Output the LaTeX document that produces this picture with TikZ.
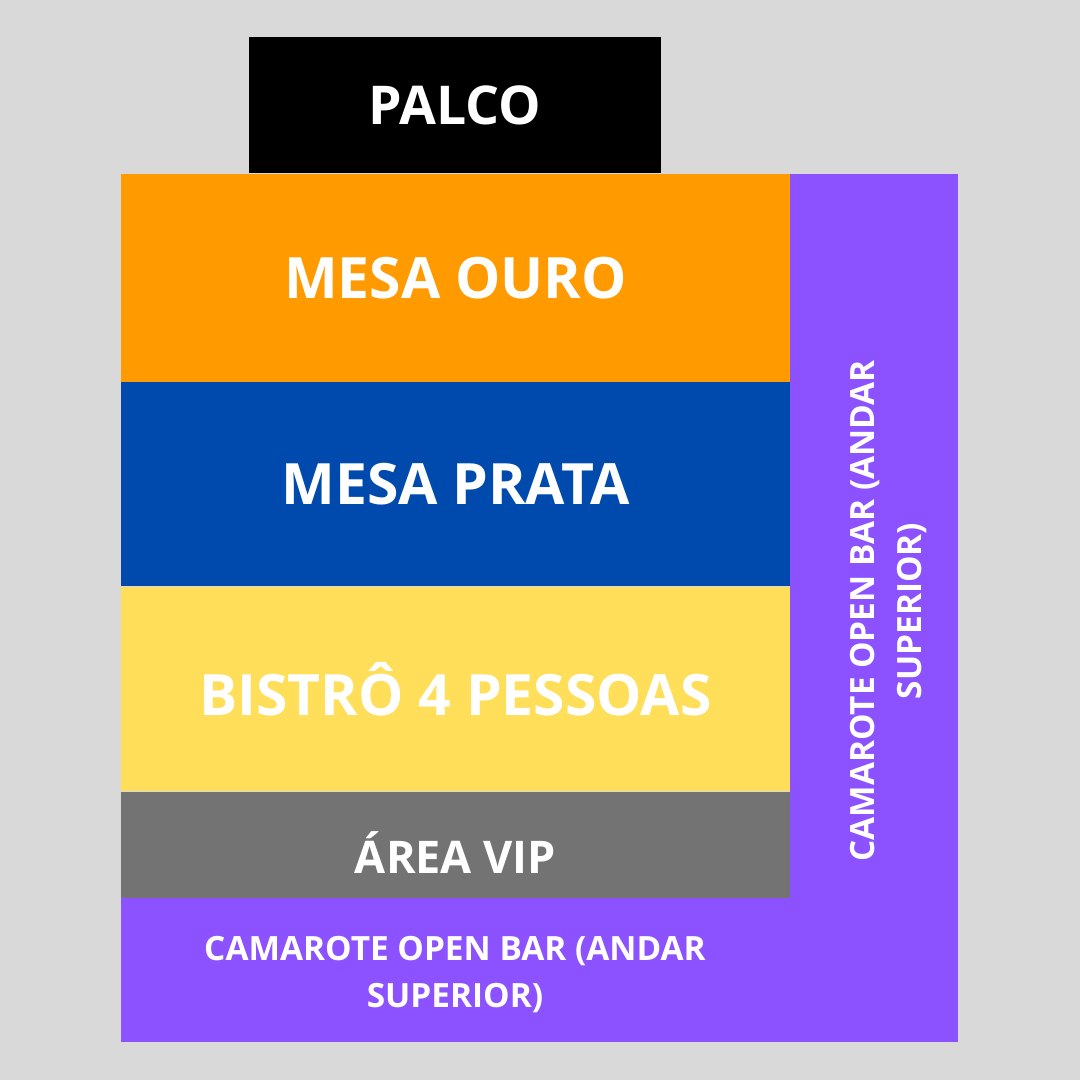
\documentclass[tikz,border=0pt]{standalone}
\usepackage{fontspec}
\setmainfont{Open Sans}[UprightFont=* Bold]
\usetikzlibrary{positioning}

\definecolor{fundo}{HTML}{D9D9D9}
\definecolor{ouro}{HTML}{FF9B00}
\definecolor{prata}{HTML}{004AAD}
\definecolor{bistro}{HTML}{FFDE59}
\definecolor{vip}{HTML}{737373}
\definecolor{camarote}{HTML}{8C52FF}

\begin{document}
\begin{tikzpicture}[
    x=1pt, y=-1pt,
    % Plan styling
    every node/.style={
        inner sep=0pt,
        outer sep=0pt,
        text=white,
        align=center
    },
    % Custom styles for the areas
    area/.style={
        rectangle,
        minimum width=669pt,
        font=\fontsize{57}{68}\selectfont
    },
    camarote text/.style={
        font=\fontsize{33.4}{47}\selectfont
    }
]
    % Background
    \fill[fundo] (0,0) rectangle (1080,1080);
    \useasboundingbox (0,0) rectangle (1080,1080);

    % Stage
    \node[fill=black, minimum width=412pt, minimum height=136pt,
          font=\fontsize{53.5}{64}\selectfont] (palco) at (455,105) {PALCO};

    % Upper floor boxes
    \node[fill=camarote, minimum width=168pt, minimum height=868pt] (camarote lado) at (874,608) {};
    \node[fill=camarote, minimum width=669pt, minimum height=144pt] (camarote baixo) at (455.5,970) {};

    % Main areas
    \node[area, fill=ouro, minimum height=208pt] (mesa ouro) at (455.5,278) {MESA OURO};
    \node[area, fill=prata, minimum height=204pt] (mesa prata) at (455.5,484) {MESA PRATA};
    \node[area, fill=bistro, minimum height=204pt] (bistro) at (455.5,689) {BISTRÔ 4 PESSOAS};
    \node[area, fill=vip, minimum height=106pt] (area vip) at (455.5,845) {};
    \node[font=\fontsize{45}{54}\selectfont] (area vip txt)
        at ([yshift=-8pt]area vip.center) {ÁREA VIP};

    % Upper floor labels
    \node[camarote text] (camarote baixo txt) at (455,975) {CAMAROTE OPEN BAR (ANDAR\\SUPERIOR)};
    \node[camarote text, rotate=90] (camarote lado txt) at (889,611) {CAMAROTE OPEN BAR (ANDAR\\SUPERIOR)};
\end{tikzpicture}
\end{document}
